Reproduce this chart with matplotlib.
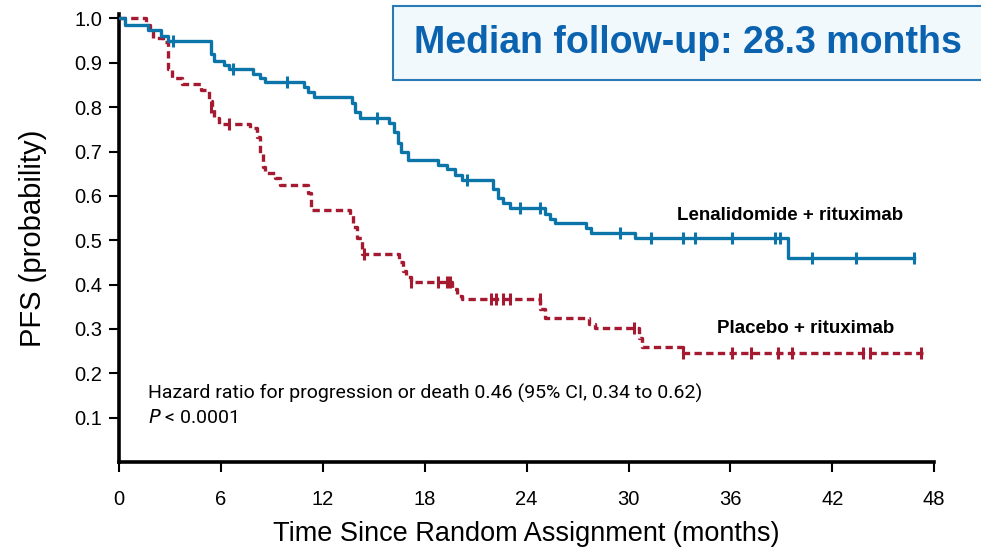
import matplotlib
matplotlib.use('Agg')
import matplotlib.pyplot as plt
from matplotlib.patches import FancyBboxPatch

plt.rcParams.update({
    'font.family': ['Liberation Sans', 'DejaVu Sans'],
})

BLUE = '#0b74a8'
RED = '#a51a30'

# Lenalidomide + rituximab: step times (months) and survival after each step
len_t = [0, 0.35, 1.7, 2.5, 2.9, 5.4, 5.6, 6.2, 6.5, 7.9, 8.3, 8.6, 10.9, 11.1,
         11.5, 13.7, 13.9, 14.2, 15.9, 16.2, 16.4, 16.6, 17.0, 18.8, 19.3, 19.8,
         20.2, 22.0, 22.3, 22.6, 23.0, 25.1, 25.4, 25.7, 27.5, 27.8, 30.4, 39.4, 46.8]
len_s = [1.0, 0.985, 0.975, 0.96, 0.95, 0.92, 0.905, 0.896, 0.887, 0.875, 0.865,
         0.856, 0.845, 0.835, 0.824, 0.81, 0.79, 0.775, 0.765, 0.745, 0.72, 0.70,
         0.68, 0.67, 0.66, 0.648, 0.636, 0.615, 0.595, 0.585, 0.572, 0.56, 0.548,
         0.538, 0.528, 0.516, 0.505, 0.46, 0.46]
len_cens_t = [3.2, 6.7, 9.9, 15.2, 20.5, 23.6, 24.8, 29.5, 31.3, 33.2, 33.9,
              36.1, 38.6, 38.9, 40.8, 43.4, 46.8]
len_cens_s = [0.95, 0.887, 0.856, 0.775, 0.636, 0.572, 0.572, 0.516, 0.505, 0.505,
              0.505, 0.505, 0.505, 0.505, 0.46, 0.46, 0.46]

# Placebo + rituximab
pla_t = [0, 1.6, 1.8, 2.0, 2.6, 2.9, 3.1, 3.7, 4.8, 5.3, 5.5, 5.6, 5.9, 7.7, 8.1,
         8.3, 8.5, 8.6, 9.2, 9.5, 11.1, 11.3, 13.6, 13.8, 14.0, 14.3, 16.5, 16.7,
         16.9, 17.2, 19.6, 19.9, 20.2, 24.8, 25.1, 27.7, 28.0, 30.6, 30.8, 33.2, 47.4]
pla_s = [1.0, 0.985, 0.97, 0.957, 0.946, 0.887, 0.865, 0.853, 0.838, 0.815, 0.80,
         0.775, 0.763, 0.752, 0.732, 0.696, 0.664, 0.651, 0.64, 0.624, 0.606, 0.568,
         0.558, 0.53, 0.505, 0.47, 0.45, 0.43, 0.417, 0.405, 0.39, 0.375, 0.368,
         0.345, 0.324, 0.31, 0.302, 0.28, 0.26, 0.245, 0.245]
pla_cens_t = [5.4, 6.5, 14.4, 17.2, 18.8, 19.3, 19.5, 21.9, 22.2, 22.6, 23.0, 24.8,
              30.3, 33.2, 36.1, 37.2, 38.8, 39.6, 43.8, 44.2, 47.2]
pla_cens_s = [0.80, 0.763, 0.47, 0.405, 0.405, 0.405, 0.405, 0.368, 0.368, 0.368,
              0.368, 0.368, 0.302, 0.245, 0.245, 0.245, 0.245, 0.245, 0.245, 0.245,
              0.245]

x_ticks = [0, 6, 12, 18, 24, 30, 36, 42, 48]
y_ticks = [0.1, 0.2, 0.3, 0.4, 0.5, 0.6, 0.7, 0.8, 0.9, 1.0]

fig = plt.figure(figsize=(9.81, 5.53), dpi=100)
ax = fig.add_axes([0.1213, 0.1646, 0.831, 0.810])

ax.step(len_t, len_s, where='post', color=BLUE, lw=2.4, zorder=3)
ax.plot(len_cens_t, len_cens_s, ls='none', marker='|', ms=9, mew=2.2,
        color=BLUE, zorder=4)
ax.step(pla_t, pla_s, where='post', color=RED, lw=2.4, ls=(0, (2.2, 1.3)), zorder=2)
ax.plot(pla_cens_t, pla_cens_s, ls='none', marker='|', ms=9, mew=2.2,
        color=RED, zorder=2)

ax.set_xlim(0, 48)
ax.set_ylim(0, 1.01)
ax.set_xticks(x_ticks)
ax.set_yticks(y_ticks)
ax.set_xticklabels([str(v) for v in x_ticks], fontsize=14.5)
ax.set_yticklabels([f'{v:.1f}' for v in y_ticks], fontsize=14.5)
ax.tick_params(direction='out', length=7, width=1.5, pad=13, axis='x')
ax.tick_params(direction='out', length=7, width=1.5, pad=5, axis='y')
for s in ['top', 'right']:
    ax.spines[s].set_visible(False)
for s in ['left', 'bottom']:
    ax.spines[s].set_linewidth(2.6)

ax.set_xlabel('Time Since Random Assignment (months)', fontsize=19.5, labelpad=9)
ax.set_ylabel('PFS (probability)', fontsize=21, labelpad=20)

ax.text(39.5, 0.556, 'Lenalidomide + rituximab', fontsize=13.5, fontweight='bold',
        ha='center', va='center')
ax.text(40.45, 0.302, 'Placebo + rituximab', fontsize=13.5, fontweight='bold',
        ha='center', va='center')
ax.text(1.7, 0.155, 'Hazard ratio for progression or death 0.46 (95% CI, 0.34 to 0.62)',
        fontsize=14, family=['Roboto', 'DejaVu Sans'], ha='left', va='center')
ax.text(1.7, 0.099, r'$\it{P}$ < 0.0001', fontsize=14,
        family=['Roboto', 'DejaVu Sans'], ha='left', va='center')

box = FancyBboxPatch((393 / 981, 1 - 80 / 553), 600 / 981, 74 / 553,
                     boxstyle='square,pad=0', transform=fig.transFigure,
                     facecolor='#f1f9fd', edgecolor='#2b79b5', lw=1.5,
                     clip_on=False, zorder=5)
fig.patches.append(box)
fig.text(688 / 981, 1 - 43 / 553, 'Median follow-up: 28.3 months', fontsize=27,
         fontweight='bold', color='#0b63b0', ha='center', va='center', zorder=6)

fig.savefig('out.png', dpi=100)
